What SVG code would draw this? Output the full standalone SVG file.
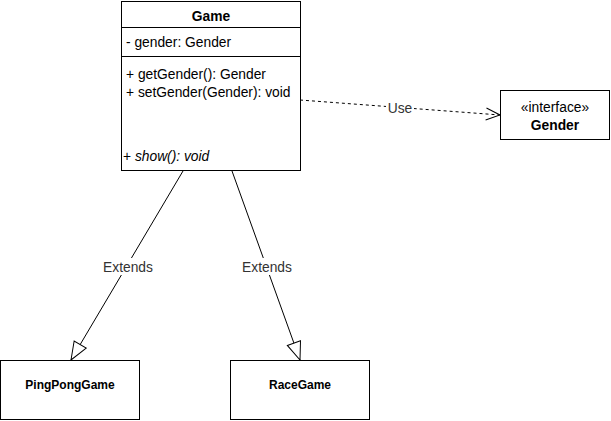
<svg xmlns="http://www.w3.org/2000/svg" width="611" height="421" viewBox="0 0 611 421">
<style>
.box{fill:#fff;stroke:#000;stroke-width:1}
.t{font-family:"Liberation Sans",Arial,sans-serif;font-size:13.8px;fill:#000}
.s{font-size:12px}
.b{font-weight:bold}
.c{text-anchor:middle}
.edge{fill:none;stroke:#000;stroke-width:1}
.lbl{font-family:"Liberation Sans",Arial,sans-serif;font-size:13.8px;fill:#333;text-anchor:middle}
</style>
<defs>
<marker id="tri" viewBox="0 0 20 20" refX="19" refY="10" markerWidth="20" markerHeight="20" markerUnits="userSpaceOnUse" orient="auto">
<path d="M1,3 L19,10 L1,17 Z" fill="#fff" stroke="#000" stroke-width="1"/>
</marker>
<marker id="open" viewBox="0 0 20 20" refX="18" refY="10" markerWidth="20" markerHeight="20" markerUnits="userSpaceOnUse" orient="auto">
<path d="M4,4 L18,10 L4,16" fill="none" stroke="#000" stroke-width="1"/>
</marker>
</defs>
<rect width="611" height="421" fill="#fff"/>
<g id="connectors">
<path class="edge" d="M183,171 L71,360" marker-end="url(#tri)"/>
<path class="edge" d="M232,171 L300,360" marker-end="url(#tri)"/>
<path class="edge" d="M300,100 L500,115" stroke-dasharray="3,3" marker-end="url(#open)"/>
<rect x="100" y="258" width="56" height="17" fill="#fff"/>
<text class="lbl" x="128" y="272">Extends</text>
<rect x="239" y="258" width="56" height="17" fill="#fff"/>
<text class="lbl" x="267" y="272">Extends</text>
<rect x="386" y="100" width="28" height="15" fill="#fff"/>
<text class="lbl" x="400" y="113">Use</text>
</g>
<g id="Game">
<rect class="box" x="121.5" y="1.5" width="179" height="169"/>
<line class="edge" x1="121.5" y1="27.5" x2="300.5" y2="27.5"/>
<line class="edge" x1="121.5" y1="56.5" x2="300.5" y2="56.5"/>
<text class="t b c" x="211" y="21">Game</text>
<text class="t" x="126" y="47">- gender: Gender</text>
<text class="t" x="126" y="79">+ getGender(): Gender</text>
<text class="t" x="126" y="97">+ setGender(Gender): void</text>
<text class="t" x="123" y="161">+ <tspan font-style="italic">show(): void</tspan></text>
</g>
<g id="Gender">
<rect class="box" x="500.5" y="90.5" width="109" height="49"/>
<text class="t c" x="555" y="112">«interface»</text>
<text class="t b c" x="555" y="130">Gender</text>
</g>
<g id="PingPongGame">
<rect class="box" x="0.5" y="360.5" width="139" height="59"/>
<text class="t s b c" x="70" y="389">PingPongGame</text>
</g>
<g id="RaceGame">
<rect class="box" x="230.5" y="360.5" width="139" height="59"/>
<text class="t s b c" x="300" y="389">RaceGame</text>
</g>
</svg>
